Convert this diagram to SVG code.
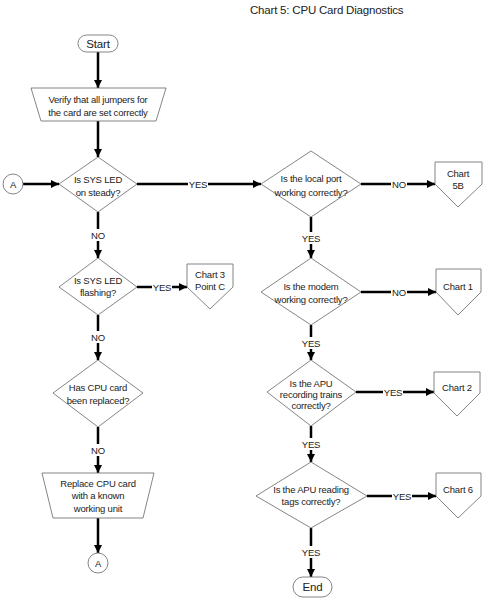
<svg xmlns="http://www.w3.org/2000/svg" width="486" height="600" viewBox="0 0 486 600">
<style>
text{font-family:"Liberation Sans",Arial,sans-serif;fill:#222;text-anchor:middle}
.t{font-size:9.5px;letter-spacing:-0.2px}
.lbl{font-size:9.5px;letter-spacing:-0.2px}
.title{font-size:11.5px;letter-spacing:-0.2px;text-anchor:start}
.big{font-size:11.5px;letter-spacing:-0.2px}
.shape{fill:#fff;stroke:#777;stroke-width:0.9}
.c{fill:none;stroke:#000;stroke-width:2.5}
.ca{fill:none;stroke:#000;stroke-width:2.5;marker-end:url(#arr)}
</style>
<defs>
<marker id="arr" markerUnits="userSpaceOnUse" markerWidth="9" markerHeight="9" refX="8" refY="4" orient="auto">
<path d="M0,0 L8,4 L0,8 z" fill="#000"/>
</marker>
</defs>
<rect width="486" height="600" fill="#fff"/>
<text class="title" x="250" y="14">Chart 5: CPU Card Diagnostics</text>

<g id="connectors">
<path class="ca" d="M98,52 V88"/>
<path class="ca" d="M98,121 V157"/>
<path class="ca" d="M23,184 H59"/>
<path class="c" d="M137,184 H188"/><path class="ca" d="M208,184 H261"/>
<text class="lbl" x="198" y="187.5">YES</text>
<path class="c" d="M98,212 V229"/><path class="ca" d="M98,241 V258"/>
<text class="lbl" x="98" y="238.5">NO</text>
<path class="c" d="M137,287 H152"/><path class="ca" d="M172,287 H187"/>
<text class="lbl" x="162" y="290.5">YES</text>
<path class="c" d="M98,315 V331"/><path class="ca" d="M98,343 V360"/>
<text class="lbl" x="98" y="340.5">NO</text>
<path class="c" d="M98,427 V444"/><path class="ca" d="M98,456 V473"/>
<text class="lbl" x="98" y="453.5">NO</text>
<path class="ca" d="M98,518 V553"/>
<path class="c" d="M361,184 H391"/><path class="ca" d="M407,184 H435"/>
<text class="lbl" x="399" y="187.5">NO</text>
<path class="c" d="M311,217 V232"/><path class="ca" d="M311,244 V258"/>
<text class="lbl" x="311" y="241.5">YES</text>
<path class="c" d="M361,292 H391"/><path class="ca" d="M407,292 H436"/>
<text class="lbl" x="399" y="295.5">NO</text>
<path class="c" d="M311,325 V337"/><path class="ca" d="M311,349 V360"/>
<text class="lbl" x="311" y="346.5">YES</text>
<path class="c" d="M356,392 H383"/><path class="ca" d="M403,392 H434"/>
<text class="lbl" x="393" y="395.5">YES</text>
<path class="c" d="M311,426 V438"/><path class="ca" d="M311,450 V462"/>
<text class="lbl" x="311" y="447.5">YES</text>
<path class="c" d="M367,496 H392"/><path class="ca" d="M412,496 H436"/>
<text class="lbl" x="402" y="499.5">YES</text>
<path class="c" d="M311,528 V546"/><path class="ca" d="M311,558 V577"/>
<text class="lbl" x="311" y="555.5">YES</text>
</g>

<g id="start">
<rect class="shape" x="78" y="35" width="40" height="17" rx="8.5"/>
<text class="big" x="98" y="47.5">Start</text>
</g>
<g id="verify">
<polygon class="shape" points="31,88 166,88 156,121 41,121"/>
<text class="t" x="98" y="103">Verify that all jumpers for</text>
<text class="t" x="98" y="115.5">the card are set correctly</text>
</g>
<g id="connA1">
<circle class="shape" cx="13" cy="184" r="10"/>
<text class="t" x="13" y="187.5">A</text>
</g>
<g id="sysSteady">
<polygon class="shape" points="98,157 137,184 98,212 59,184"/>
<text class="t" x="98" y="182.5">Is SYS LED</text>
<text class="t" x="98" y="196">on steady?</text>
</g>
<g id="sysFlash">
<polygon class="shape" points="98,258 137,287 98,315 59,287"/>
<text class="t" x="98" y="283.5">Is SYS LED</text>
<text class="t" x="98" y="295.5">flashing?</text>
</g>
<g id="chart3">
<polygon class="shape" points="187,264 233,264 233,287 210,309 187,287"/>
<text class="t" x="210" y="277.5">Chart 3</text>
<text class="t" x="210" y="289.5">Point C</text>
</g>
<g id="cpuReplaced">
<polygon class="shape" points="98,360 143,393 98,427 53,393"/>
<text class="t" x="98" y="390.5">Has CPU card</text>
<text class="t" x="98" y="403.5">been replaced?</text>
</g>
<g id="replaceCard">
<polygon class="shape" points="42,473 154,473 143,518 53,518"/>
<text class="t" x="98" y="486.5">Replace CPU card</text>
<text class="t" x="98" y="499">with a known</text>
<text class="t" x="98" y="511.5">working unit</text>
</g>
<g id="connA2">
<circle class="shape" cx="98" cy="563" r="10"/>
<text class="t" x="98" y="566.5">A</text>
</g>
<g id="localPort">
<polygon class="shape" points="311,151 361,184 311,217 261,184"/>
<text class="t" x="311" y="181.5">Is the local port</text>
<text class="t" x="311" y="195.5">working correctly?</text>
</g>
<g id="chart5B">
<polygon class="shape" points="435,162 482,162 482,184 458,207 435,184"/>
<text class="t" x="458" y="176.5">Chart</text>
<text class="t" x="458" y="188.5">5B</text>
</g>
<g id="modem">
<polygon class="shape" points="311,258 361,292 311,325 261,292"/>
<text class="t" x="311" y="289.5">Is the modem</text>
<text class="t" x="311" y="302.5">working correctly?</text>
</g>
<g id="chart1">
<polygon class="shape" points="436,269 481,269 481,292 458,315 436,292"/>
<text class="t" x="458" y="289.5">Chart 1</text>
</g>
<g id="apuRecording">
<polygon class="shape" points="311,360 356,392 311,426 267,392"/>
<text class="t" x="311" y="386.5">Is the APU</text>
<text class="t" x="311" y="397.5">recording trains</text>
<text class="t" x="311" y="408.5">correctly?</text>
</g>
<g id="chart2">
<polygon class="shape" points="434,372 480,372 480,393 457,416 434,393"/>
<text class="t" x="457" y="390.5">Chart 2</text>
</g>
<g id="apuTags">
<polygon class="shape" points="311,462 367,496 311,528 256,496"/>
<text class="t" x="311" y="492.5">Is the APU reading</text>
<text class="t" x="311" y="504.5">tags correctly?</text>
</g>
<g id="chart6">
<polygon class="shape" points="436,473 481,473 481,496 458,518 436,496"/>
<text class="t" x="458" y="492.5">Chart 6</text>
</g>
<g id="end">
<rect class="shape" x="293" y="577" width="39" height="20" rx="10"/>
<text class="big" x="312.5" y="591">End</text>
</g>
</svg>
